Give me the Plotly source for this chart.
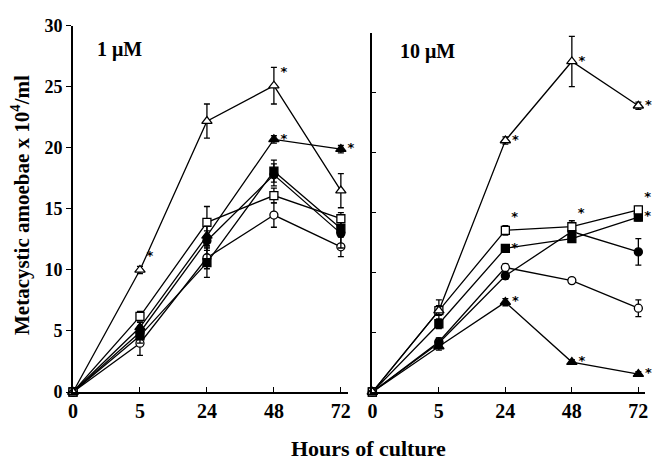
import plotly.graph_objects as go

hours = ["0", "5", "24", "48", "72"]
xi = [0, 1, 2, 3, 4]

# 1 µM panel
l_open_tri = [0, 10.0, 22.2, 25.1, 16.5]
l_open_tri_err = [0, 0.3, 1.4, 1.5, 1.4]
l_fill_tri = [0, 5.3, 12.8, 20.7, 19.9]
l_fill_tri_err = [0, 0.4, 0.8, 0.3, 0.3]
l_open_sq = [0, 6.2, 13.9, 16.1, 14.2]
l_open_sq_err = [0, 0.4, 1.3, 0.6, 0.5]
l_fill_sq = [0, 4.6, 10.6, 18.1, 13.4]
l_fill_sq_err = [0, 0.6, 1.2, 0.9, 0.6]
l_fill_circ = [0, 4.9, 12.4, 17.8, 13.0]
l_fill_circ_err = [0, 0.5, 0.8, 0.9, 1.2]
l_open_circ = [0, 4.0, 11.0, 14.5, 11.9]
l_open_circ_err = [0, 1.0, 0.9, 1.0, 0.8]

# 10 µM panel
r_open_tri = [0, 6.8, 21.0, 27.6, 23.9]
r_open_tri_err = [0, 0.9, 0.3, 2.1, 0.3]
r_open_sq = [0, 6.8, 13.5, 13.8, 15.2]
r_open_sq_err = [0, 0.4, 0.4, 0.5, 0.3]
r_fill_sq = [0, 5.7, 12.0, 12.8, 14.6]
r_fill_sq_err = [0, 0.4, 0.3, 0.3, 0.3]
r_fill_circ = [0, 4.1, 9.7, 13.4, 11.7]
r_fill_circ_err = [0, 0.4, 0.3, 0.4, 1.1]
r_open_circ = [0, 4.2, 10.4, 9.3, 7.0]
r_open_circ_err = [0, 0.3, 0.3, 0.2, 0.7]
r_fill_tri = [0, 3.8, 7.5, 2.5, 1.5]
r_fill_tri_err = [0, 0.3, 0.3, 0.2, 0.2]

# significance marks
l_open_tri_star = ["", "*", "", "*", ""]
l_fill_tri_star = ["", "", "", "*", "*"]
r_open_tri_star = ["", "", "*", "*", "*"]
r_open_sq_star = ["", "", "*", "*", "*"]
r_fill_sq_star = ["", "", "*", "", "*"]
r_fill_tri_star = ["", "", "*", "*", "*"]
none_star = ["", "", "", "", ""]

FONT = "Liberation Serif"
fig = go.Figure()

def add(y, err, symbol, fill, stars, xa, ya, size=8, tpos="top right"):
    fig.add_trace(go.Scatter(
        x=xi, y=y, xaxis=xa, yaxis=ya,
        mode="lines+markers+text",
        text=["<b>%s</b>" % s if s else "" for s in stars], textposition=tpos,
        textfont=dict(family="DejaVu Sans", size=13, color="black"),
        line=dict(color="black", width=1.3),
        marker=dict(symbol=symbol, size=size, color=fill,
                    line=dict(color="black", width=1.3)),
        error_y=dict(type="data", array=err, color="black", thickness=1.3, width=3),
        showlegend=False, cliponaxis=False))

add(l_open_circ, l_open_circ_err, "circle", "white", none_star, "x", "y")
add(l_fill_circ, l_fill_circ_err, "circle", "black", none_star, "x", "y")
add(l_fill_sq, l_fill_sq_err, "square", "black", none_star, "x", "y")
add(l_open_sq, l_open_sq_err, "square", "white", none_star, "x", "y")
add(l_fill_tri, l_fill_tri_err, "triangle-up", "black", l_fill_tri_star, "x", "y", 9, "middle right")
add(l_open_tri, l_open_tri_err, "triangle-up", "white", l_open_tri_star, "x", "y", 9)

add(r_open_circ, r_open_circ_err, "circle", "white", none_star, "x2", "y2")
add(r_fill_circ, r_fill_circ_err, "circle", "black", none_star, "x2", "y2")
add(r_fill_sq, r_fill_sq_err, "square", "black", r_fill_sq_star, "x2", "y2", 8, "middle right")
add(r_open_sq, r_open_sq_err, "square", "white", r_open_sq_star, "x2", "y2", 8, "top right")
add(r_fill_tri, r_fill_tri_err, "triangle-up", "black", r_fill_tri_star, "x2", "y2", 9, "middle right")
add(r_open_tri, r_open_tri_err, "triangle-up", "white", r_open_tri_star, "x2", "y2", 9, "middle right")

xtickfont = dict(family=FONT, size=20, color="black")
ytickfont = dict(family=FONT, size=18, color="black")
xcommon = dict(range=[0, 4.1], tickvals=xi, ticktext=["<b>%s</b>" % h for h in hours],
               showline=True, linecolor="black", linewidth=2, ticks="inside",
               ticklen=5, tickcolor="black", showgrid=False, zeroline=False,
               tickfont=xtickfont)
fig.update_layout(
    width=653, height=462,
    margin=dict(l=73, r=5, t=10, b=70),
    paper_bgcolor="white", plot_bgcolor="white",
    xaxis=dict(domain=[0, 0.48], anchor="y", **xcommon),
    xaxis2=dict(domain=[0.5234, 1], anchor="y2", **xcommon),
    yaxis=dict(domain=[0, 0.971], range=[0, 30], tickvals=[0, 5, 10, 15, 20, 25, 30],
               ticktext=["<b>%d</b>" % v for v in [0, 5, 10, 15, 20, 25, 30]],
               showline=True, linecolor="black", linewidth=2, ticks="outside",
               ticklen=5, tickcolor="black", showgrid=False, zeroline=False,
               tickfont=ytickfont, anchor="x"),
    yaxis2=dict(domain=[0, 0.953], range=[0, 30], tickvals=[0, 5, 10, 15, 20, 25, 30],
                showticklabels=False,
                showline=True, linecolor="black", linewidth=2, ticks="inside",
                ticklen=4, tickcolor="black", showgrid=False, zeroline=False,
                anchor="x2"),
    annotations=[
        dict(text="<b>1 μM</b>", xref="paper", yref="paper", x=0.0815, y=0.908,
             xanchor="center", yanchor="middle",
             showarrow=False, font=dict(family=FONT, size=20, color="black")),
        dict(text="<b>10 μM</b>", xref="paper", yref="paper", x=0.62, y=0.903,
             xanchor="center", yanchor="middle",
             showarrow=False, font=dict(family=FONT, size=20, color="black")),
        dict(text="<b>Metacystic amoebae x 10<sup>4</sup>/ml</b>", xref="paper", yref="paper",
             x=-0.092, y=0.497, textangle=-90, xanchor="center", yanchor="middle",
             showarrow=False, font=dict(family=FONT, size=21, color="black")),
        dict(text="<b>Hours of culture</b>", xref="paper", yref="paper",
             x=0.516, y=-0.149, xanchor="center", yanchor="middle",
             showarrow=False, font=dict(family=FONT, size=22, color="black")),
    ],
)
fig.write_html("out.html")
